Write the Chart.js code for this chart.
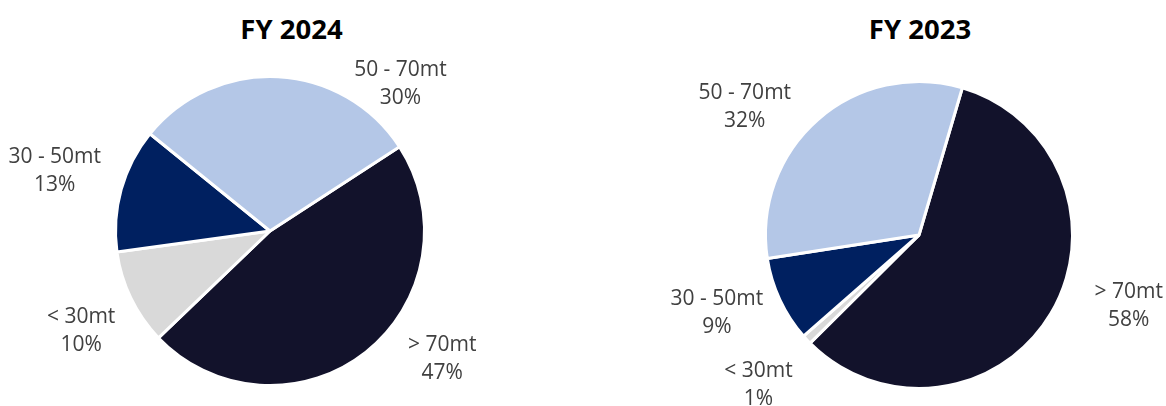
<!DOCTYPE html>
<html>
<head>
<meta charset="utf-8">
<script src="https://cdn.jsdelivr.net/npm/chart.js@4.4.1/dist/chart.umd.min.js"></script>
<style>
    html, body { margin: 0; padding: 0; background: #fff; }
    #wrap { position: relative; width: 1166px; height: 406px; overflow: hidden; }
    .box { position: absolute; top: 0; height: 406px; width: 583px; }
    .title {
        position: absolute; top: 9px;
        font-family: 'Open Sans', sans-serif; font-weight: bold; font-size: 27.5px;
        color: #000; text-align: center; line-height: 40px;
    }
</style>
</head>
<body>
<div id="wrap">
    <div class="title" style="left:0; width:583px;">FY 2024</div>
    <div class="title" style="left:674px; width:492px;">FY 2023</div>
    <div class="box" style="left:0;"><canvas id="chart2024"></canvas></div>
    <div class="box" style="left:583px;"><canvas id="chart2023"></canvas></div>
</div>
<script>
// Данные
const categories = ['> 70mt', '< 30mt', '30 - 50mt', '50 - 70mt'];
const share2024 = [47, 10, 13, 30];
const share2023 = [58, 1, 9, 32];
const sliceColors = ['#12122B', '#D9D9D9', '#002060', '#B4C7E7'];

// Подписи снаружи круга: сдвиг угла от середины сектора (градусы) и отступ от края
const outsideLabels = {
    id: 'outsideLabels',
    afterDatasetsDraw(chart, args, opts) {
        const ctx = chart.ctx;
        const meta = chart.getDatasetMeta(0);
        const values = chart.data.datasets[0].data;
        ctx.save();
        ctx.font = '21px "Open Sans", sans-serif';
        ctx.fillStyle = '#404040';
        ctx.textAlign = 'center';
        ctx.textBaseline = 'middle';
        meta.data.forEach((arc, i) => {
            const p = arc.getProps(['x', 'y', 'startAngle', 'endAngle', 'outerRadius'], true);
            const place = opts.place[i];
            const mid = (p.startAngle + p.endAngle) / 2 + place.shift * Math.PI / 180;
            const r = p.outerRadius + place.dist;
            const x = p.x + Math.cos(mid) * r;
            const y = p.y + Math.sin(mid) * r;
            ctx.fillText(chart.data.labels[i], x, y - 14);
            ctx.fillText(values[i] + '%', x, y + 14);
        });
        ctx.restore();
    }
};

function makePie(id, values, rotation, padding, place) {
    const ctx = document.getElementById(id).getContext('2d');
    return new Chart(ctx, {
        type: 'pie',
        data: {
            labels: categories,
            datasets: [{
                data: values,
                backgroundColor: sliceColors,
                borderColor: '#ffffff',
                borderWidth: 3,
                hoverBorderWidth: 3,
                hoverOffset: 0
            }]
        },
        options: {
            responsive: true,
            maintainAspectRatio: false,
            animation: false,
            rotation: rotation,
            layout: { padding: padding },
            plugins: {
                legend: { display: false },
                tooltip: { enabled: false },
                outsideLabels: { place: place }
            }
        },
        plugins: [outsideLabels]
    });
}

function init() {
    makePie('chart2024', share2024, 57,
        { top: 75, bottom: 19, left: 114, right: 157 },
        [{ shift: -15, dist: 60 }, { shift: -2, dist: 59 }, { shift: 0, dist: 69 }, { shift: 38.6, dist: 42 }]);

    makePie('chart2023', share2023, 16.4,
        { top: 80, bottom: 16, left: 181, right: 92 },
        [{ shift: -12, dist: 68 }, { shift: 0, dist: 66 }, { shift: 4, dist: 63 }, { shift: -12.4, dist: 63 }]);
}

if (document.fonts && document.fonts.load) {
    document.fonts.load('21px "Open Sans"').then(init, init);
} else {
    init();
}
</script>
</body>
</html>
